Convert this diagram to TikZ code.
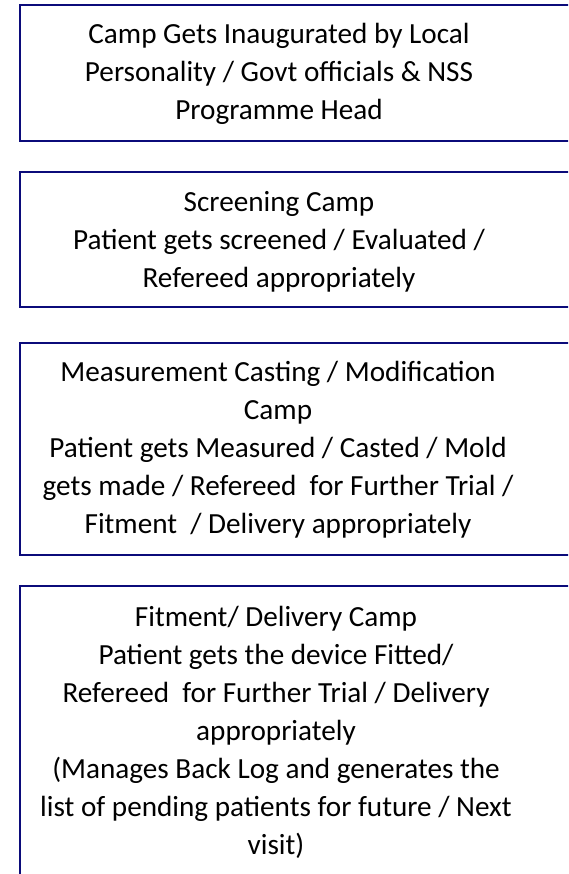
\documentclass[tikz,border=0pt]{standalone}
\usepackage{fontspec}
\setmainfont{Carlito}
\definecolor{framenavy}{HTML}{0B0B7A}
\tikzset{
	campframe/.style={draw=framenavy,line width=1.5pt},
	camptext/.style={align=center,anchor=base,inner sep=0pt,
		font=\fontsize{21.9pt}{28.5pt}\selectfont}
}
\begin{document}
\begin{tikzpicture}[x=0.75pt,y=-0.75pt]
	\useasboundingbox (0,0) rectangle (568,874);
	\clip (0,0) rectangle (568,874);
	% frames
	\draw[campframe] (20,5) rectangle (600,140.5);
	\draw[campframe] (20,171.7) rectangle (600,307);
	\draw[campframe] (20,342.7) rectangle (600,555);
	\draw[campframe] (20,586) rectangle (600,900);
	% texts (base = last line)
	\node[camptext] (inaug) at (279,119) {Camp Gets Inaugurated by Local\\Personality / Govt officials \& NSS\\Programme Head};
	\node[camptext] (screen) at (279,287) {Screening Camp\\Patient gets screened / Evaluated /\\Refereed appropriately};
	\node[camptext] (measure) at (278,533) {Measurement Casting / Modification\\Camp\\Patient gets Measured / Casted / Mold\\gets made / Refereed\ \ for Further Trial /\\Fitment\ \ / Delivery appropriately};
	\node[camptext] (fitment) at (276,854) {Fitment/ Delivery Camp\\Patient gets the device Fitted/\\Refereed\ \ for Further Trial / Delivery\\appropriately\\(Manages Back Log and generates the\\list of pending patients for future / Next\\visit)};
\end{tikzpicture}
\end{document}
